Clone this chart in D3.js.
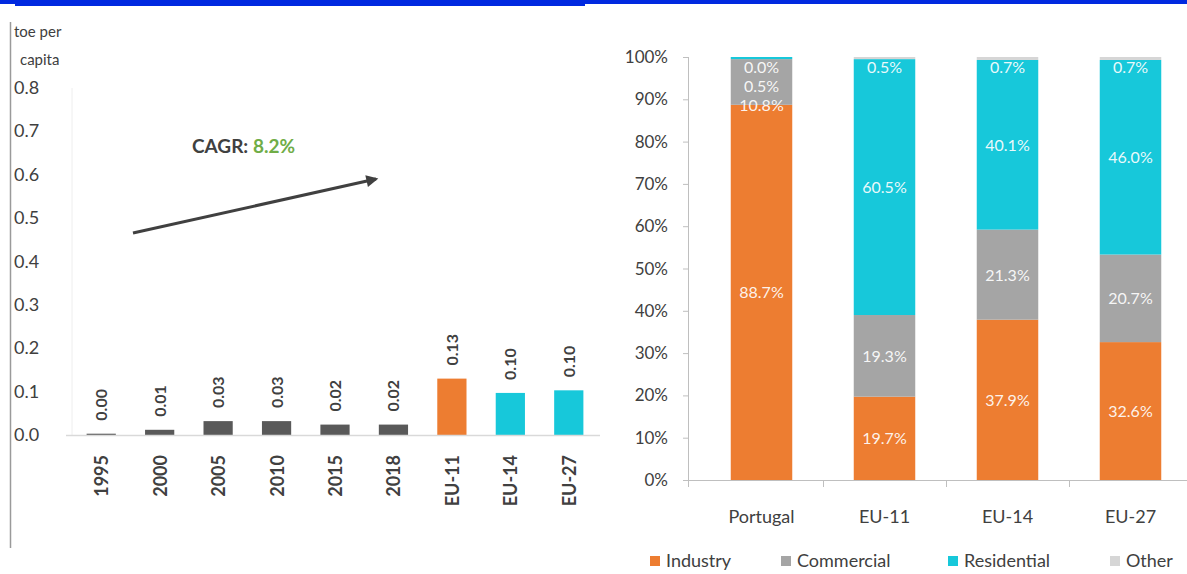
<!DOCTYPE html>
<html><head><meta charset="utf-8">
<script src="https://cdn.jsdelivr.net/npm/d3@7"></script>
<style>
html,body{margin:0;padding:0;background:#fff;}
svg{display:block;font-family:Lato,"Open Sans",sans-serif;}
</style></head>
<body><svg id="c" width="1187" height="574"></svg>
<script>
// ---- Left chart data
const leftCategories = ["1995","2000","2005","2010","2015","2018","EU-11","EU-14","EU-27"];
const leftValues = [0.003,0.012,0.032,0.032,0.024,0.024,0.13,0.097,0.103];
const leftLabels = ["0.00","0.01","0.03","0.03","0.02","0.02","0.13","0.10","0.10"];
const leftGroups = ["pt","pt","pt","pt","pt","pt","eu11","eu","eu"];
const leftTicks = [0,0.1,0.2,0.3,0.4,0.5,0.6,0.7,0.8];
const cagrText = "8.2%";

// ---- Right chart data
const rightCategories = ["Portugal","EU-11","EU-14","EU-27"];
const seriesNames = ["Industry","Commercial","Residential","Other"];
const industry    = [88.7,19.7,37.9,32.6];
const commercial  = [10.8,19.3,21.3,20.7];
const residential = [0.5,60.5,40.1,46.0];
const other       = [0.0,0.5,0.7,0.7];
const rightTicks = [0,10,20,30,40,50,60,70,80,90,100];

const svg = d3.select("#c");
const colors = {Industry:"#ED7D31",Commercial:"#A5A5A5",Residential:"#17C8DA",Other:"#D6D6D6"};
const groupColor = {pt:"#595959",eu11:"#ED7D31",eu:"#17C8DA"};

// top blue bars
svg.append("rect").attr("x",0).attr("y",0).attr("width",1187).attr("height",4).attr("fill","#0029E0");
svg.append("rect").attr("x",15).attr("y",0).attr("width",570).attr("height",6).attr("fill","#0029E0");
// left border line
svg.append("line").attr("x1",10.5).attr("x2",10.5).attr("y1",22).attr("y2",548).attr("stroke","#9a9a9a").attr("stroke-width",1.5);

// ===== LEFT CHART =====
const yL = d3.scaleLinear().domain([0,0.8]).range([435,88]);
const xL = d3.scaleBand().domain(leftCategories).range([72,598]).paddingInner(0.5).paddingOuter(0.25);
const gL = svg.append("g");
gL.append("text").attr("x",14).attr("y",37).attr("font-size",15).attr("fill","#404040").text("toe per");
gL.append("text").attr("x",20).attr("y",65).attr("font-size",15).attr("fill","#404040").text("capita");
// y tick labels
gL.selectAll(".yt").data(leftTicks).join("text")
  .attr("x",14).attr("y",d=>yL(d)+6).attr("font-size",18).attr("fill","#404040")
  .text(d=>d3.format(".1f")(d));
// faint y axis
gL.append("line").attr("x1",72).attr("x2",72).attr("y1",yL(0.8)).attr("y2",yL(0)).attr("stroke","#eeeeee");
// bars
gL.selectAll(".b").data(leftCategories).join("rect")
  .attr("x",d=>xL(d)).attr("width",xL.bandwidth())
  .attr("y",(d,i)=>yL(leftValues[i])).attr("height",(d,i)=>yL(0)-yL(leftValues[i]))
  .attr("fill",(d,i)=>groupColor[leftGroups[i]]);
// baseline
gL.append("line").attr("x1",66).attr("x2",600).attr("y1",yL(0)+0.5).attr("y2",yL(0)+0.5).attr("stroke","#d9d9d9").attr("stroke-width",1.5);
// value labels
gL.selectAll(".vl").data(leftCategories).join("text")
  .attr("transform",(d,i)=>`translate(${xL(d)+xL.bandwidth()/2+6},${yL(leftValues[i])-13}) rotate(-90)`)
  .attr("font-size",16).attr("font-weight","bold").attr("fill","#404040")
  .text((d,i)=>leftLabels[i]);
// x labels
gL.selectAll(".xl").data(leftCategories).join("text")
  .attr("transform",d=>`translate(${xL(d)+xL.bandwidth()/2+7},455) rotate(-90)`)
  .attr("text-anchor","end").attr("font-size",18).attr("font-weight","bold").attr("fill","#404040")
  .text(d=>d);
// arrow
const defs = svg.append("defs");
defs.append("marker").attr("id","ah").attr("viewBox","0 0 10 10").attr("refX",8).attr("refY",5)
  .attr("markerWidth",5).attr("markerHeight",4).attr("orient","auto")
  .append("path").attr("d","M0,0 L10,5 L0,10 z").attr("fill","#404040");
gL.append("line").attr("x1",133).attr("y1",233).attr("x2",376).attr("y2",179)
  .attr("stroke","#404040").attr("stroke-width",3).attr("marker-end","url(#ah)");
const ct = gL.append("text").attr("x",192).attr("y",153).attr("font-size",19).attr("font-weight","bold");
ct.append("tspan").attr("fill","#404040").text("CAGR: ");
ct.append("tspan").attr("fill","#70AD47").text(cagrText);

// ===== RIGHT CHART =====
const yR = d3.scaleLinear().domain([0,100]).range([480,57]);
const xR = d3.scaleBand().domain(rightCategories).range([700,1192]).paddingInner(0.5).paddingOuter(0.25);
const gR = svg.append("g");
gR.selectAll(".yt").data(rightTicks).join("text")
  .attr("x",668).attr("y",d=>yR(d)+6).attr("text-anchor","end").attr("font-size",17).attr("fill","#404040")
  .text(d=>d+"%");
gR.append("line").attr("x1",688.5).attr("x2",688.5).attr("y1",yR(100)).attr("y2",yR(0)).attr("stroke","#bfbfbf");
gR.selectAll(".ytk").data(rightTicks).join("line")
  .attr("x1",683).attr("x2",688).attr("y1",d=>yR(d)+0.5).attr("y2",d=>yR(d)+0.5).attr("stroke","#bfbfbf");

const seriesArrays = [industry,commercial,residential,other];
const rows = rightCategories.map((c,i)=>{const o={cat:c}; seriesNames.forEach((s,j)=>o[s]=seriesArrays[j][i]); return o;});
const stack = d3.stack().keys(seriesNames)(rows);
gR.selectAll(".ser").data(stack).join("g").attr("fill",d=>colors[d.key])
  .selectAll("rect").data(d=>d).join("rect")
  .attr("x",d=>xR(d.data.cat)).attr("width",xR.bandwidth())
  .attr("y",d=>yR(d[1])).attr("height",d=>yR(d[0])-yR(d[1]));

// x axis
gR.append("line").attr("x1",688).attr("x2",1187).attr("y1",yR(0)+0.5).attr("y2",yR(0)+0.5).attr("stroke","#bfbfbf");
const bounds = [688].concat(rightCategories.slice(1).map(c=>xR(c)-xR.step()*xR.paddingInner()/2));
gR.selectAll(".xtk").data(bounds).join("line")
  .attr("x1",d=>d+0.5).attr("x2",d=>d+0.5).attr("y1",yR(0)).attr("y2",yR(0)+7).attr("stroke","#bfbfbf");
gR.selectAll(".xl").data(rightCategories).join("text")
  .attr("x",d=>xR(d)+xR.bandwidth()/2).attr("y",523).attr("text-anchor","middle")
  .attr("font-size",18).attr("fill","#404040").text(d=>d);

// segment labels with simple de-overlap from top
rightCategories.forEach((c,i)=>{
  let labs = stack.map(s=>({v:s[i][1]-s[i][0], y:yR((s[i][0]+s[i][1])/2)})).reverse();
  let prev = -Infinity;
  labs.forEach(l=>{
    let y = Math.max(l.y, yR(100)+10, prev+19);
    l.y = y; prev = y;
  });
  gR.selectAll(".sl"+i).data(labs).join("text")
    .attr("x",xR(c)+xR.bandwidth()/2).attr("y",d=>d.y+6).attr("text-anchor","middle")
    .attr("font-size",16).attr("fill","#ffffff").attr("fill-opacity",0.92)
    .text(d=>d3.format(".1f")(d.v)+"%");
});

// legend
const legX = [650,781,948,1110];
const legG = gR.selectAll(".lg").data(seriesNames).join("g")
  .attr("transform",(d,i)=>`translate(${legX[i]},556)`);
legG.append("rect").attr("x",0).attr("y",0).attr("width",10).attr("height",10).attr("fill",d=>colors[d]);
legG.append("text").attr("x",16).attr("y",11).attr("font-size",18).attr("fill","#404040").text(d=>d);
</script></body></html>
